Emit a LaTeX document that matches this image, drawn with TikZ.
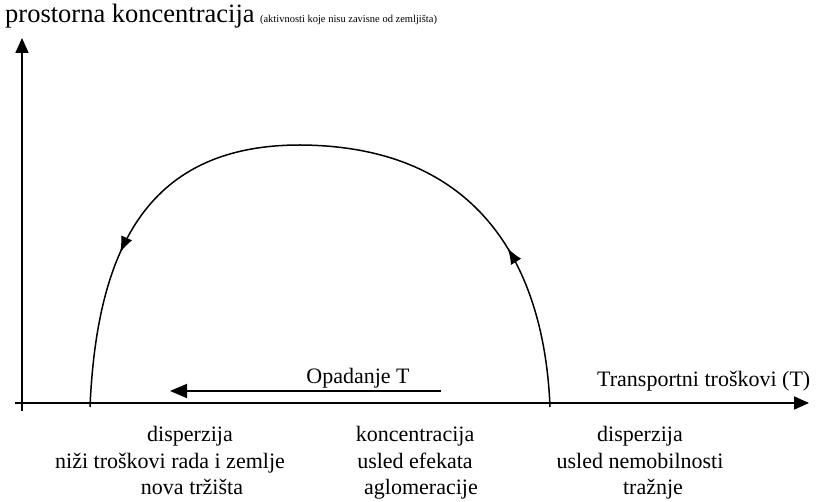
\documentclass[tikz,border=0pt]{standalone}
\usepackage{fontspec}
\setmainfont{Liberation Serif}
\usepackage{tikz}
\usetikzlibrary{arrows.meta,positioning,decorations.markings}

\tikzset{
    axis/.style={line width=1.8pt,-{Triangle[length=15pt,width=13pt]}},
    txt/.style={font=\fontsize{22}{24}\selectfont,anchor=base,inner sep=0pt},
    curve/.style={line width=1.5pt,postaction={decorate},
        decoration={markings,
            mark=at position 0.21 with {\arrow{Latex[length=16pt,width=12pt]}},
            mark=at position 0.8 with {\arrow{Latex[length=16pt,width=12pt]}}}}
}

\begin{document}
\begin{tikzpicture}[x=1pt,y=-1pt]
    \useasboundingbox (0,0) rectangle (823,502);
    % axes
    \coordinate (ybot) at (22,411);
    \coordinate (ytop) at (22,38);
    \coordinate (xleft) at (15,403);
    \coordinate (xend) at (809,403);
    \draw[axis] (ybot) -- (ytop);
    \draw[axis] (xleft) -- (xend);
    \node[txt,anchor=base west,font=\fontsize{26.5}{28}\selectfont] (title) at (5,23)
        {prostorna koncentracija};
    \node[txt,font=\fontsize{10.5}{12}\selectfont,right=5pt of title.base east,anchor=base west]
        (sub) {(aktivnosti koje nisu zavisne od zemljišta)};
    \node[txt,anchor=base west] (xlabel) at (597,387) {Transportni troškovi (T)};

    % curve
    \coordinate (rfoot) at (550,407);
    \coordinate (peak) at (300,145);
    \coordinate (lfoot) at (90,407);
    \draw[curve] (rfoot) .. controls (545,280) and (490,146) .. (peak)
        .. controls (150,145) and (97,245) .. (lfoot);

    % falling T
    \coordinate (tstart) at (441,391);
    \coordinate (tend) at (170,391);
    \draw[line width=1.8pt,-{Triangle[length=17pt,width=14pt]}] (tstart) -- (tend);
    \node[txt] (fall) at (358,384) {Opadanje T};

    % zones
    \node[txt] (d1a) at (190,442) {disperzija};
    \node[txt] (d1b) at (170,469) {niži troškovi rada i zemlje};
    \node[txt] (d1c) at (192,495) {nova tržišta};
    \node[txt] (k2a) at (415,442) {koncentracija};
    \node[txt] (k2b) at (415,469) {usled efekata};
    \node[txt] (k2c) at (421,495) {aglomeracije};
    \node[txt] (d3a) at (640,442) {disperzija};
    \node[txt] (d3b) at (640,469) {usled nemobilnosti};
    \node[txt] (d3c) at (653,495) {tražnje};
\end{tikzpicture}
\end{document}
